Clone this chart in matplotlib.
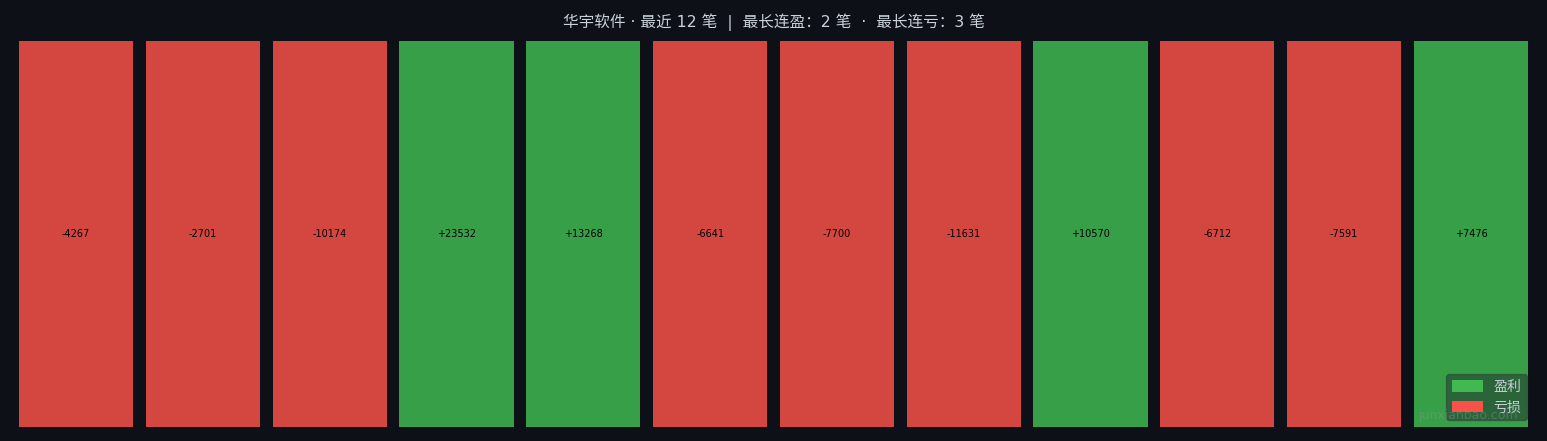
import matplotlib.pyplot as plt
from matplotlib.patches import Patch

plt.rcParams['font.family'] = ['DejaVu Sans', 'Noto Sans CJK SC']

pnl = [-4267, -2701, -10174, 23532, 13268, -6641, -7700, -11631, 10570, -6712, -7591, 7476]
stock = "华宇软件"
max_win_streak = 2
max_loss_streak = 3

bg = "#0d1117"
win_color = "#3fb950"
loss_color = "#f85149"
text_color = "#c9d1d9"

fig = plt.figure(figsize=(15.47, 4.41), dpi=100, facecolor=bg)
ax = fig.add_axes([19 / 1547, 14 / 441, 1509 / 1547, 386 / 441])
ax.set_facecolor(bg)

colors = [win_color if v > 0 else loss_color for v in pnl]
x = range(len(pnl))
ax.bar(x, [1] * len(pnl), width=0.9, color=colors, alpha=0.85)
for i, v in enumerate(pnl):
    ax.text(i, 0.5, f"{v:+d}", ha="center", va="center", fontsize=7, color="black")

ax.set_xlim(-0.45, len(pnl) - 0.55)
ax.set_ylim(0, 1)
ax.axis("off")

fig.suptitle(f"{stock} · 最近 {len(pnl)} 笔  |  最长连盈：{max_win_streak} 笔  ·  最长连亏：{max_loss_streak} 笔",
             color=text_color, fontsize=11.25, y=0.97)

handles = [Patch(facecolor=win_color, label="盈利"), Patch(facecolor=loss_color, label="亏损")]
leg = ax.legend(handles=handles, loc="lower right", bbox_to_anchor=(0.9993, 0.018),
                fontsize=10, facecolor="#1f2a2a", edgecolor="#30363d",
                labelcolor=text_color, framealpha=0.5, borderaxespad=0,
                handlelength=2.2, handleheight=0.9)

fig.text(0.981, 0.057, "junxianbao.com", ha="right", va="center", fontsize=9,
         color="#8b949e", alpha=0.4)

fig.savefig("out.png", dpi=100, facecolor=bg)
